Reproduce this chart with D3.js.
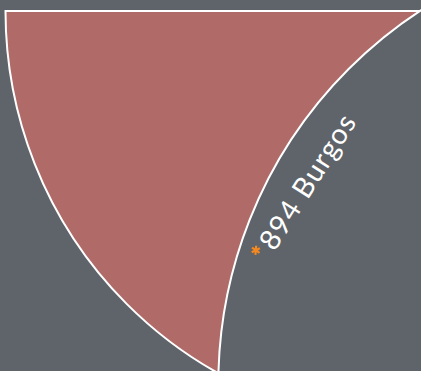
<!DOCTYPE html>
<html>
<head>
<meta charset="utf-8">
<script src="https://cdn.jsdelivr.net/npm/d3@7"></script>
<style>
  html, body { margin: 0; padding: 0; background: #5f646b; }
  svg { display: block; }
</style>
</head>
<body>
<div id="chart"></div>
<script>
// ---- data ----
const categories = ["Burgos"];
const values = [894];
const wedgeShares = [0.5];          // share of the highlighted (red) pie wedge

// ---- layout ----
const W = 421, H = 371;
const bg = "#5f646b", red = "#b06b68", orange = "#f5891f";

const svg = d3.select("#chart").append("svg")
  .attr("width", W).attr("height", H);

svg.append("rect").attr("width", W).attr("height", H).attr("fill", bg);

const cx = W - 1, cy = 11;
const R = cx - 5.5;

const g = svg.append("g").attr("transform", `translate(${cx},${cy})`);

// red wedge from a pie layout
const pie = d3.pie().sort(null)
  .startAngle(Math.PI / 2)
  .endAngle(Math.PI / 2 + 2 * Math.PI * d3.sum(wedgeShares));
const arc = d3.arc().innerRadius(0).outerRadius(R);

g.selectAll("path.wedge")
  .data(pie(wedgeShares))
  .join("path")
  .attr("class", "wedge")
  .attr("d", arc)
  .attr("fill", red)
  .attr("stroke", "#fff")
  .attr("stroke-width", 2)
  .attr("stroke-linejoin", "miter");

// bubble for the category, sized by value
const rScale = d3.scaleSqrt().domain([0, d3.max(values)]).range([0, R * 1.0755]);
const bubbleAngle = 146.8 * Math.PI / 180;   // direction of bubble centre from pie centre

g.selectAll("circle.bubble")
  .data(values)
  .join("circle")
  .attr("class", "bubble")
  .attr("cx", d => Math.sin(bubbleAngle) * rScale(d))
  .attr("cy", d => -Math.cos(bubbleAngle) * rScale(d))
  .attr("r", d => rScale(d))
  .attr("fill", bg)
  .attr("stroke", "#fff")
  .attr("stroke-width", 2);

// radial label with asterisk marker
const labelAngle = 214.46;   // degrees, pie convention
const labelR = 290.2;

const lab = g.selectAll("g.lab")
  .data(categories)
  .join("g")
  .attr("class", "lab")
  .attr("transform", `rotate(${labelAngle - 90}) translate(${labelR}) rotate(180)`);

lab.append("path")
  .attr("d", d3.symbol(d3.symbolAsterisk, 58))
  .attr("fill", "none")
  .attr("stroke", orange)
  .attr("stroke-width", 2.1);

lab.append("text")
  .attr("transform", "rotate(-2)")
  .attr("x", 8.4)
  .attr("y", 16.9)
  .attr("text-anchor", "start")
  .attr("font-family", "Lato, 'Open Sans', sans-serif")
  .attr("font-size", 28.5)
  .attr("letter-spacing", 1.1)
  .attr("fill", "#fff")
  .text((d, i) => `${values[i]} ${d}`);
</script>
</body>
</html>
